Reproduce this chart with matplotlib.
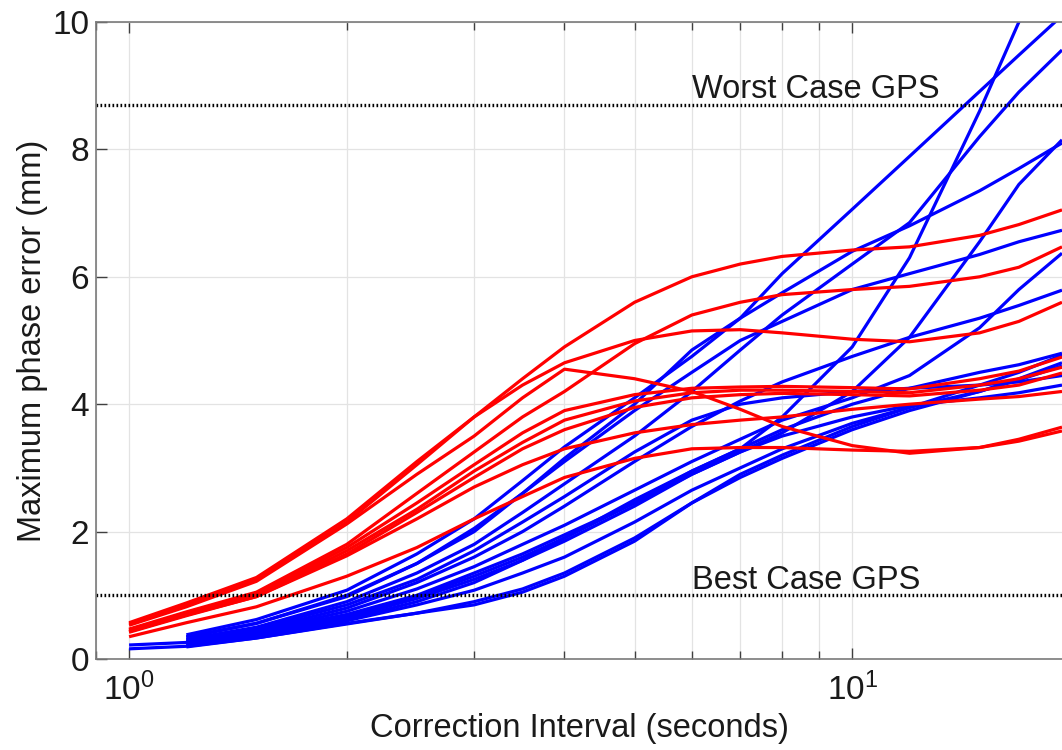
import numpy as np
import matplotlib
matplotlib.use("Agg")
import matplotlib.pyplot as plt
from matplotlib.ticker import LogLocator, NullFormatter

plt.rcParams['font.family'] = ['Liberation Sans', 'DejaVu Sans']
plt.rcParams['mathtext.fontset'] = 'custom'
plt.rcParams['mathtext.rm'] = 'Liberation Sans'
plt.rcParams['mathtext.default'] = 'regular'

# Korrekturintervall (s), gemeinsame Stuetzstellen aller Kurven
interval = [1, 1.2, 1.5, 2, 2.5, 3, 3.5, 4, 5, 6, 7, 8, 10, 12, 15, 17, 19.5]

# rote Kurven (max. Phasenfehler in mm)
red_curves = [
    [0.57, 0.88, 1.28, 2.20, 3.10, 3.80, 4.40, 4.90, 5.60, 6.00, 6.20, 6.32, 6.42, 6.47, 6.65, 6.82, 7.05],
    [0.55, 0.85, 1.25, 2.15, 3.05, 3.80, 4.30, 4.65, 5.00, 5.15, 5.17, 5.12, 5.02, 4.98, 5.12, 5.30, 5.60],
    [0.53, 0.82, 1.22, 2.12, 2.90, 3.50, 4.10, 4.55, 4.40, 4.20, 3.92, 3.65, 3.35, 3.23, 3.32, 3.45, 3.64],
    [0.47, 0.74, 1.05, 1.80, 2.60, 3.25, 3.80, 4.20, 4.95, 5.40, 5.60, 5.72, 5.80, 5.85, 6.00, 6.15, 6.47],
    [0.46, 0.72, 1.03, 1.75, 2.45, 3.05, 3.55, 3.90, 4.15, 4.25, 4.27, 4.28, 4.26, 4.24, 4.40, 4.52, 4.74],
    [0.44, 0.70, 1.00, 1.70, 2.35, 2.95, 3.40, 3.75, 4.05, 4.18, 4.22, 4.22, 4.20, 4.18, 4.30, 4.40, 4.58],
    [0.42, 0.68, 0.98, 1.65, 2.30, 2.85, 3.30, 3.60, 3.95, 4.10, 4.15, 4.17, 4.15, 4.13, 4.22, 4.30, 4.49],
    [0.43, 0.69, 0.98, 1.62, 2.20, 2.70, 3.05, 3.30, 3.55, 3.68, 3.75, 3.80, 3.92, 4.00, 4.08, 4.12, 4.20],
    [0.35, 0.57, 0.82, 1.30, 1.75, 2.20, 2.55, 2.85, 3.15, 3.30, 3.32, 3.32, 3.28, 3.26, 3.32, 3.42, 3.58],
]

# blaue Kurven (nan = Kurve beginnt erst bei 1.2 s)
nan = np.nan
blue_curves = [
    [nan, 0.38, 0.62, 1.08, 1.65, 2.20, 2.80, 3.33, 4.10, 4.75, 5.35, 6.05, 7.06, 7.89, 8.91, 9.48, 10.10],
    [nan, 0.35, 0.56, 0.98, 1.50, 2.00, 2.60, 3.15, 4.00, 4.85, 5.35, 5.75, 6.40, 6.80, 7.35, 7.70, 8.10],
    [nan, 0.31, 0.50, 0.90, 1.35, 1.80, 2.30, 2.75, 3.50, 4.20, 4.85, 5.40, 6.20, 6.85, 8.20, 8.90, 9.56],
    [nan, 0.25, 0.38, 0.62, 0.90, 1.20, 1.55, 1.90, 2.50, 2.95, 3.30, 3.80, 4.90, 6.30, 8.60, 10.0, 11.60],
    [nan, 0.25, 0.42, 0.70, 1.00, 1.35, 1.65, 1.95, 2.45, 2.90, 3.25, 3.55, 4.20, 5.05, 6.55, 7.45, 8.15],
    [nan, 0.34, 0.56, 1.00, 1.50, 2.05, 2.60, 3.10, 3.90, 4.50, 5.00, 5.30, 5.80, 6.05, 6.35, 6.55, 6.73],
    [nan, 0.27, 0.43, 0.75, 1.10, 1.45, 1.80, 2.10, 2.65, 3.10, 3.45, 3.75, 4.10, 4.45, 5.20, 5.80, 6.37],
    [nan, 0.28, 0.45, 0.80, 1.20, 1.60, 2.00, 2.40, 3.10, 3.65, 4.05, 4.35, 4.75, 5.05, 5.35, 5.55, 5.79],
    [nan, 0.19, 0.33, 0.56, 0.72, 0.85, 1.05, 1.30, 1.85, 2.45, 2.90, 3.20, 3.65, 3.95, 4.30, 4.50, 4.77],
    [nan, 0.22, 0.36, 0.60, 0.85, 1.08, 1.35, 1.60, 2.15, 2.65, 3.00, 3.30, 3.70, 3.95, 4.20, 4.38, 4.60],
    [nan, 0.24, 0.38, 0.65, 0.95, 1.25, 1.55, 1.85, 2.40, 2.90, 3.25, 3.50, 3.80, 3.98, 4.10, 4.18, 4.30],
    [nan, 0.30, 0.48, 0.85, 1.25, 1.70, 2.15, 2.55, 3.25, 3.75, 4.00, 4.10, 4.20, 4.25, 4.30, 4.35, 4.45],
    [0.16, 0.20, 0.33, 0.55, 0.72, 0.90, 1.10, 1.35, 1.90, 2.45, 2.85, 3.15, 3.60, 3.90, 4.20, 4.40, 4.65],
    [0.22, 0.26, 0.40, 0.68, 0.98, 1.30, 1.60, 1.90, 2.45, 2.95, 3.30, 3.60, 4.00, 4.25, 4.50, 4.62, 4.80],
]

# GPS-Referenzlinien
gps_levels = [8.7, 1.0]
gps_labels = ["Worst Case GPS", "Best Case GPS"]

fig = plt.figure(figsize=(10.62, 7.5), dpi=100)
ax = fig.add_axes([0.0904, 0.1213, 0.9096, 0.8494])

for ys in blue_curves:
    ax.plot(interval, ys, color="#0000ff", lw=2.3, solid_capstyle="butt",
            solid_joinstyle="round")
for ys in red_curves:
    ax.plot(interval, ys, color="#ff0000", lw=2.3, solid_capstyle="butt",
            solid_joinstyle="round")

for level, label in zip(gps_levels, gps_labels):
    ax.axhline(level, color="black", lw=2.4, ls=(0, (0.5, 0.7)))
    ax.text(6.0, level + 0.1, label, fontsize=23.5, color="#1a1a1a",
            ha="left", va="baseline")

ax.set_xscale("log")
ax.set_xlim(0.9, 19.5)
ax.set_ylim(0, 10)

ax.set_xticks([1, 10])
ax.set_xticklabels(["$10^0$", "$10^1$"])
ax.xaxis.set_minor_locator(LogLocator(base=10, subs=np.arange(2, 10)))
ax.xaxis.set_minor_formatter(NullFormatter())
ax.set_yticks([0, 2, 4, 6, 8, 10])

ax.grid(True, which="major", color="#e3e3e3", lw=0.9)
ax.grid(True, which="minor", axis="x", color="#e3e3e3", lw=0.9)
ax.set_axisbelow(True)

ax.tick_params(axis="both", which="both", direction="in", top=True,
               right=False, colors="#404040", labelcolor="#1a1a1a")
ax.tick_params(axis="both", which="major", length=8, width=1, labelsize=24)
ax.tick_params(axis="x", which="minor", length=6, width=1)
ax.tick_params(axis="x", which="major", pad=10)
ax.tick_params(axis="y", which="major", pad=5)

for side in ["left", "bottom", "top"]:
    ax.spines[side].set_color("#7a7a7a")
    ax.spines[side].set_linewidth(1.2)
ax.spines["right"].set_visible(False)

ax.set_xlabel("Correction Interval (seconds)", fontsize=23.5, color="#1a1a1a",
              labelpad=4)
ax.set_ylabel("Maximum phase error (mm)", fontsize=23.5, color="#1a1a1a",
              labelpad=3)

fig.savefig("out.png", dpi=100)
